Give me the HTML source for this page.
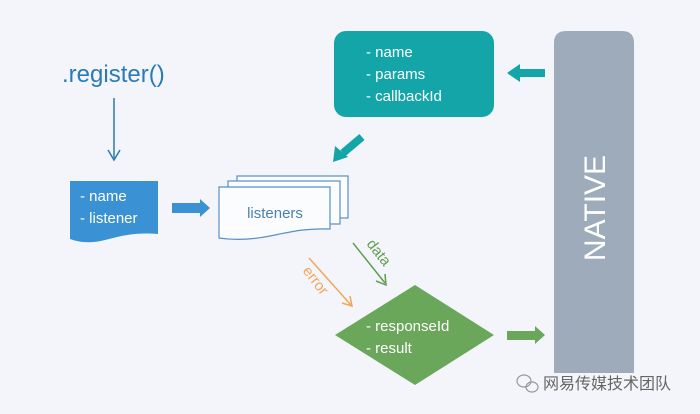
<!DOCTYPE html>
<html><head><meta charset="utf-8"><style>
html,body{margin:0;padding:0;background:#f4f5fb;}
svg{display:block;font-family:"Liberation Sans","DejaVu Sans",sans-serif;}
</style></head><body>
<svg width="700" height="414" viewBox="0 0 700 414" xmlns="http://www.w3.org/2000/svg">
<rect width="700" height="414" fill="#f4f5fb"/>
<text x="62" y="82" font-size="24" fill="#2a7ab8">.register()</text>
<line x1="114" y1="98" x2="114" y2="158" stroke="#2a7ab8" stroke-width="1.5"/>
<polyline points="108,150 114,160 120,150" fill="none" stroke="#2a7ab8" stroke-width="1.5"/>
<path d="M70,181 H158 V234 C135,232 120,236 105,240 C90,244 78,242 70,239 Z" fill="#3a91d3"/>
<text x="80" y="201" font-size="15" fill="#fff">- name</text>
<text x="80" y="223" font-size="15" fill="#fff">- listener</text>
<polygon points="172,203 200,203 200,199 210,208 200,217 200,213 172,213" fill="#3a91d3"/>
<g fill="#fbfcfe" stroke="#5a8fc4" stroke-width="1.2">
<rect x="237" y="176" width="111" height="42"/>
<rect x="228" y="181" width="112" height="43"/>
<path d="M219,187 H330 V229 C305,228 290,232 270,236 C250,240 232,240 219,238 Z"/>
</g>
<text x="275" y="218" font-size="15" fill="#4a7fb0" text-anchor="middle">listeners</text>
<rect x="334" y="31" width="160" height="86" rx="12" fill="#13a5a8"/>
<text x="366" y="57" font-size="15" fill="#fff">- name</text>
<text x="366" y="79" font-size="15" fill="#fff">- params</text>
<text x="366" y="101" font-size="15" fill="#fff">- callbackId</text>
<polygon points="545,69 520,69 520,64 507,73 520,82 520,77 545,77" fill="#13a5a8"/>
<line x1="362" y1="137" x2="343" y2="153" stroke="#13a5a8" stroke-width="8"/>
<polygon points="333,162 335,146 348,157" fill="#13a5a8"/>
<path d="M554,43 Q554,31 566,31 H622 Q634,31 634,43 V373 H554 Z" fill="#9eabbb"/>
<text x="0" y="0" font-size="30" fill="#fff" text-anchor="middle" transform="translate(605,208) rotate(-90)">NATIVE</text>
<line x1="353" y1="243" x2="385" y2="283" stroke="#5e9f50" stroke-width="1.5"/>
<polyline points="376,281 386,285 385,274" fill="none" stroke="#5e9f50" stroke-width="1.5"/>
<text x="0" y="0" font-size="15" fill="#5e9f50" transform="translate(366,244) rotate(52)">data</text>
<line x1="309" y1="258" x2="351" y2="305" stroke="#f0a858" stroke-width="1.5"/>
<polyline points="342,303 352,306 350,296" fill="none" stroke="#f0a858" stroke-width="1.5"/>
<text x="0" y="0" font-size="15" fill="#f0a858" transform="translate(302,271) rotate(52)">error</text>
<polygon points="335,335 415,285 494,335 415,385" fill="#6aa75a"/>
<text x="366" y="331" font-size="15" fill="#fff">- responseId</text>
<text x="366" y="353" font-size="15" fill="#fff">- result</text>
<polygon points="507,331 535,331 535,326 545,335 535,344 535,340 507,340" fill="#6aa75a"/>
<g fill="none" stroke="#999" stroke-width="1.2">
<ellipse cx="524" cy="381" rx="7" ry="6"/><ellipse cx="532" cy="387" rx="6" ry="5"/>
</g>
<text x="543" y="389" font-size="16" fill="#666" font-family="'Noto Sans CJK SC',sans-serif">网易传媒技术团队</text>
</svg>
</body></html>
